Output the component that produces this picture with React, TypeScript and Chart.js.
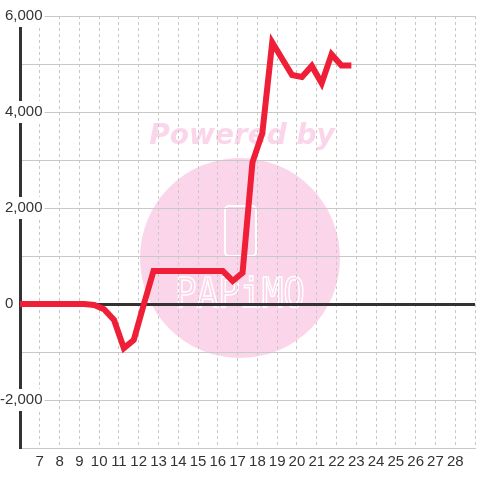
import React, { useEffect, useRef } from "react";
import { Chart, registerables } from "chart.js";

Chart.register(...registerables);

const days = [
  5.75, 6.25, 6.75, 7.25, 7.75, 8.25, 8.75, 9.25, 9.75, 10.25, 10.75, 11.25,
  11.75, 12.25, 12.75, 13.25, 13.75, 14.25, 14.75, 15.25, 15.75, 16.25, 16.75,
  17.25, 17.75, 18.25, 18.75, 19.25, 19.75, 20.25, 20.75, 21.25, 21.75, 22.25,
  22.75,
];
const values = [
  0, 0, 0, 0, 0, 0, 0, 0, -20, -110, -330, -920, -750, -20, 690, 690, 690, 690,
  690, 690, 690, 690, 480, 650, 2950, 3560, 5450, 5110, 4770, 4730, 4960, 4600,
  5200, 4970, 4970,
];
const xMin = 6;
const xMax = 29;
const yMin = -3000;
const yMax = 6000;
const watermarkText = "Powered by";
const logoText = "PAPiMO";

const TICK_FONT = { family: "'Liberation Sans', Arial, sans-serif", size: 15 };

const watermark = {
  id: "watermark",
  beforeDraw(chart: any) {
    const ctx = chart.ctx;
    ctx.save();
    ctx.fillStyle = "#fbd5ea";
    ctx.beginPath();
    ctx.arc(240, 258, 100, 0, Math.PI * 2);
    ctx.fill();
    ctx.font = "italic bold 28px 'DejaVu Sans'";
    ctx.textAlign = "center";
    ctx.textBaseline = "alphabetic";
    ctx.fillText(watermarkText, 242, 144);
    ctx.strokeStyle = "#ffffff";
    ctx.lineWidth = 2;
    ctx.beginPath();
    const rx = 225, ry = 206, rw = 31, rh = 50, rr = 4;
    ctx.moveTo(rx + rr, ry);
    ctx.arcTo(rx + rw, ry, rx + rw, ry + rh, rr);
    ctx.arcTo(rx + rw, ry + rh, rx, ry + rh, rr);
    ctx.arcTo(rx, ry + rh, rx, ry, rr);
    ctx.arcTo(rx, ry, rx + rw, ry, rr);
    ctx.closePath();
    ctx.stroke();
    ctx.font = "40px 'DejaVu Sans Mono'";
    ctx.lineWidth = 1.5;
    ctx.save();
    ctx.translate(240, 307);
    ctx.scale(0.9, 1);
    ctx.strokeText(logoText, 0, 0);
    ctx.restore();
    ctx.restore();
  },
};

export default function App() {
  const ref = useRef<HTMLCanvasElement | null>(null);
  useEffect(() => {
    document.body.style.margin = "0";
    const canvas = ref.current!;
    const chart = new Chart(canvas, {
      type: "line",
      data: {
        datasets: [
          {
            data: days.map((d, i) => ({ x: d, y: values[i] })),
            borderColor: "#ee1f36",
            borderWidth: 6,
            pointRadius: 0,
            tension: 0,
            fill: false,
          },
        ],
      },
      options: {
        animation: false,
        responsive: false,
        maintainAspectRatio: false,
        layout: { padding: { top: 16, left: 0, right: 0, bottom: 0 } },
        plugins: { legend: { display: false }, tooltip: { enabled: false } },
        scales: {
          x: {
            type: "linear",
            min: xMin,
            max: xMax,
            afterFit: (s: any) => {
              s.height = 32;
            },
            ticks: {
              stepSize: 1,
              autoSkip: false,
              maxRotation: 0,
              padding: 5,
              color: "#333",
              font: TICK_FONT,
              callback: (v: any) =>
                v === xMin || v === xMax ? "" : String(v),
            },
            grid: {
              color: "#c8c8c8",
              lineWidth: 1,
              drawTicks: false,
            } as any,
            border: { color: "#c8c8c8", width: 1, dash: [3, 3] } as any,
          },
          y: {
            type: "linear",
            min: yMin,
            max: yMax,
            afterFit: (s: any) => {
              s.width = 20;
            },
            ticks: {
              stepSize: 1000,
              mirror: true,
              crossAlign: "far",
              padding: -20,
              color: "#333",
              font: TICK_FONT,
              showLabelBackdrop: true,
              backdropColor: (c: any) =>
                c.tick &&
                c.tick.value % 2000 === 0 &&
                c.tick.value !== yMin &&
                c.tick.value !== 0
                  ? "#ffffff"
                  : "rgba(0,0,0,0)",
              backdropPadding: 2,
              callback: (v: any) =>
                v === 0
                  ? "0       "
                  : v % 2000 === 0
                  ? Number(v).toLocaleString("en-US")
                  : "",
            } as any,
            grid: {
              color: (c: any) =>
                c.tick && c.tick.value === 0 ? "#333" : "#c8c8c8",
              lineWidth: (c: any) => (c.tick && c.tick.value === 0 ? 3 : 1),
              drawTicks: false,
            },
            border: { color: "#333", width: 3 },
          },
        },
      },
      plugins: [watermark],
    });
    return () => chart.destroy();
  }, []);
  return (
    <canvas
      ref={ref}
      width={480}
      height={480}
      style={{ display: "block", width: 480, height: 480 }}
    />
  );
}
